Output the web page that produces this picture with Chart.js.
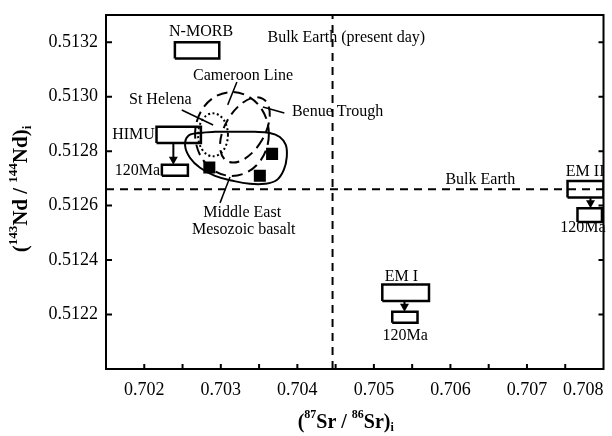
<!DOCTYPE html>
<html>
<head>
<meta charset="utf-8">
<script src="https://cdn.jsdelivr.net/npm/chart.js@4.4.1/dist/chart.umd.min.js"></script>
<style>
  body { margin: 0; background: #fff; }
  #wrap { width: 612px; height: 436px; }
</style>
</head>
<body>
<div id="wrap"><canvas id="chart"></canvas></div>
<script>
// axis ranges
const xMin = 0.7015, xMax = 0.708, xStep = 0.0005;
const yMin = 0.5120, yMax = 0.5133, yStep = 0.0002;

// bulk earth reference values
const bulkSr = 0.70446;
const bulkNd = 0.51266;

// Middle East Mesozoic basalt samples
const sampleSr = [0.70285, 0.70367, 0.70351];
const sampleNd = [0.51274, 0.51279, 0.51271];

// mantle reservoir boxes (present day and at 120 Ma)
const boxNames = ['N-MORB', 'HIMU', 'HIMU 120Ma', 'EM II', 'EM II 120Ma', 'EM I', 'EM I 120Ma'];
const boxSrLow  = [0.70240, 0.70216, 0.70223, 0.70753, 0.70766, 0.70511, 0.70524];
const boxSrHigh = [0.70298, 0.70274, 0.70257, 0.70800, 0.70798, 0.70572, 0.70557];
const boxNdLow  = [0.51314, 0.51283, 0.51271, 0.51263, 0.51254, 0.51225, 0.51217];
const boxNdHigh = [0.51320, 0.51289, 0.51275, 0.51269, 0.51259, 0.51231, 0.51221];

// evolution arrows back to 120 Ma
const arrowSr     = [0.70238, 0.70783, 0.70540];
const arrowNdFrom = [0.51283, 0.51263, 0.51225];
const arrowNdTo   = [0.51275, 0.51259, 0.51221];

// ocean island / rift fields (ellipses)
const fieldNames = ['Cameroon Line', 'Benue Trough', 'St Helena'];
const fieldSr = [0.703146, 0.703315, 0.702898];
const fieldNd = [0.512863, 0.512878, 0.512860];
const fieldSrHalf = [0.000482, 0.000260, 0.000195];
const fieldNdHalf = [0.000154, 0.000132, 0.0000790];
const fieldTilt = [0, 30, 0];

// Middle East Mesozoic basalt field outline
const meSr = [0.70312, 0.703445, 0.70364, 0.703771, 0.703849, 0.703862, 0.703823, 0.703732, 0.703576,
              0.70338, 0.703159, 0.702924, 0.702729, 0.702599, 0.702534, 0.702573, 0.702729, 0.702924, 0.70312];
const meNd = [0.512871, 0.512871, 0.512867, 0.512852, 0.512823, 0.512779, 0.512731, 0.512694, 0.51268,
              0.51268, 0.512691, 0.512709, 0.512739, 0.512775, 0.512819, 0.512856, 0.512867, 0.512871, 0.512871];

// text annotations
const noteText = ['N-MORB', 'Bulk Earth (present day)', 'Cameroon Line', 'St Helena', 'Benue Trough', 'HIMU', '120Ma',
                  'Middle East', 'Mesozoic basalt', 'Bulk Earth', 'EM II', '120Ma', 'EM I', '120Ma'];
const noteSr = [0.702742, 0.70464, 0.70329, 0.70221, 0.704526, 0.70186, 0.70191,
                0.70328, 0.70330, 0.70639, 0.70776, 0.70773, 0.70536, 0.70541];
const noteNd = [0.513238, 0.513216, 0.513076, 0.512988, 0.512944, 0.51286, 0.512728,
                0.512573, 0.512511, 0.512694, 0.512724, 0.512518, 0.512339, 0.512122];

// leader lines from labels to fields
const leadSr0 = [0.70321, 0.70249, 0.70383, 0.70312];
const leadNd0 = [0.513054, 0.512951, 0.51294, 0.512705];
const leadSr1 = [0.70309, 0.70290, 0.70355, 0.70299];
const leadNd1 = [0.51297, 0.512896, 0.512962, 0.51261];

const fieldDash = { 'Cameroon Line': [11, 6], 'Benue Trough': [10, 6], 'St Helena': [2, 2.5] };
const serif = 'Liberation Serif, Times New Roman, serif';

const datasets = [];

datasets.push({
    data: [{ x: bulkSr, y: yMin }, { x: bulkSr, y: yMax }],
    showLine: true, borderColor: '#000', borderWidth: 2, borderDash: [8, 6], pointRadius: 0
});
datasets.push({
    data: [{ x: xMin, y: bulkNd }, { x: xMax, y: bulkNd }],
    showLine: true, borderColor: '#000', borderWidth: 2, borderDash: [8, 6], pointRadius: 0
});

boxNames.forEach((name, i) => {
    datasets.push({
        label: name,
        data: [
            { x: boxSrLow[i], y: boxNdLow[i] },
            { x: boxSrHigh[i], y: boxNdLow[i] },
            { x: boxSrHigh[i], y: boxNdHigh[i] },
            { x: boxSrLow[i], y: boxNdHigh[i] },
            { x: boxSrLow[i], y: boxNdLow[i] }
        ],
        showLine: true, borderColor: '#000', borderWidth: 2.5, borderJoinStyle: 'miter', pointRadius: 0
    });
});

datasets.push({
    label: 'Middle East Mesozoic basalt',
    data: meSr.map((v, i) => ({ x: v, y: meNd[i] })),
    showLine: true, borderColor: '#000', borderWidth: 2, tension: 0.4, pointRadius: 0
});

datasets.push({
    label: 'samples',
    data: sampleSr.map((v, i) => ({ x: v, y: sampleNd[i] })),
    pointStyle: 'rect', pointRadius: 8.5, backgroundColor: '#000', borderColor: '#000', borderWidth: 0
});

function drawRich(ctx, parts, size) {
    const big = 'bold ' + size + 'px ' + serif;
    const small = 'bold ' + Math.round(size * 0.6) + 'px ' + serif;
    let total = 0;
    parts.forEach(p => { ctx.font = p.s ? small : big; total += ctx.measureText(p.t).width; });
    let x = -total / 2;
    parts.forEach(p => {
        ctx.font = p.s ? small : big;
        const dy = p.s === 'sup' ? -size * 0.38 : p.s === 'sub' ? size * 0.25 : 0;
        ctx.fillText(p.t, x, dy);
        x += ctx.measureText(p.t).width;
    });
}

const overlay = {
    id: 'overlay',
    afterDatasetsDraw(chart) {
        const { ctx, chartArea: a, scales: { x, y } } = chart;
        ctx.save();
        ctx.strokeStyle = '#000';
        ctx.fillStyle = '#000';

        // fields
        fieldNames.forEach((name, i) => {
            const cx = x.getPixelForValue(fieldSr[i]);
            const cy = y.getPixelForValue(fieldNd[i]);
            const rx = x.getPixelForValue(fieldSr[i] + fieldSrHalf[i]) - cx;
            const ry = cy - y.getPixelForValue(fieldNd[i] + fieldNdHalf[i]);
            ctx.beginPath();
            ctx.setLineDash(fieldDash[name]);
            ctx.lineWidth = 2;
            ctx.ellipse(cx, cy, rx, ry, fieldTilt[i] * Math.PI / 180, 0, Math.PI * 2);
            ctx.stroke();
        });
        ctx.setLineDash([]);

        // arrows
        arrowSr.forEach((sr, i) => {
            const px = x.getPixelForValue(sr);
            const y0 = y.getPixelForValue(arrowNdFrom[i]);
            const y1 = y.getPixelForValue(arrowNdTo[i]);
            ctx.lineWidth = 2;
            ctx.beginPath();
            ctx.moveTo(px, y0);
            ctx.lineTo(px, y1 - 6);
            ctx.stroke();
            ctx.beginPath();
            ctx.moveTo(px - 4.5, y1 - 8);
            ctx.lineTo(px + 4.5, y1 - 8);
            ctx.lineTo(px, y1);
            ctx.closePath();
            ctx.fill();
        });

        // leader lines
        ctx.lineWidth = 1.5;
        leadSr0.forEach((v, i) => {
            ctx.beginPath();
            ctx.moveTo(x.getPixelForValue(v), y.getPixelForValue(leadNd0[i]));
            ctx.lineTo(x.getPixelForValue(leadSr1[i]), y.getPixelForValue(leadNd1[i]));
            ctx.stroke();
        });

        // labels
        ctx.font = '16px ' + serif;
        ctx.textAlign = 'center';
        ctx.textBaseline = 'middle';
        noteText.forEach((t, i) => {
            ctx.fillText(t, x.getPixelForValue(noteSr[i]), y.getPixelForValue(noteNd[i]));
        });

        // frame and inner ticks
        ctx.lineWidth = 2;
        ctx.strokeRect(a.left, a.top, a.right - a.left, a.bottom - a.top);
        x.ticks.forEach(t => {
            if (t.value <= xMin + 1e-9 || t.value >= xMax - 1e-9) return;
            const px = x.getPixelForValue(t.value);
            ctx.beginPath();
            ctx.moveTo(px, a.bottom);
            ctx.lineTo(px, a.bottom - 5);
            ctx.stroke();
        });
        y.ticks.forEach(t => {
            if (t.value <= yMin + 1e-9 || t.value >= yMax - 1e-9) return;
            const py = y.getPixelForValue(t.value);
            ctx.beginPath();
            ctx.moveTo(a.left, py);
            ctx.lineTo(a.left + 6, py);
            ctx.moveTo(a.right, py);
            ctx.lineTo(a.right - 5, py);
            ctx.stroke();
        });

        // axis titles
        ctx.textAlign = 'left';
        ctx.textBaseline = 'middle';
        ctx.save();
        ctx.translate((a.left + a.right) / 2 - 9, a.bottom + 54);
        drawRich(ctx, [{ t: '(' }, { t: '87', s: 'sup' }, { t: 'Sr / ' }, { t: '86', s: 'sup' }, { t: 'Sr)' }, { t: 'i', s: 'sub' }], 20);
        ctx.restore();
        ctx.save();
        ctx.translate(22, (a.top + a.bottom) / 2 - 3);
        ctx.rotate(-Math.PI / 2);
        drawRich(ctx, [{ t: '(' }, { t: '143', s: 'sup' }, { t: 'Nd / ' }, { t: '144', s: 'sup' }, { t: 'Nd)' }, { t: 'i', s: 'sub' }], 21);
        ctx.restore();

        ctx.restore();
    }
};

new Chart(document.getElementById('chart'), {
    type: 'scatter',
    data: { datasets },
    options: {
        responsive: true,
        maintainAspectRatio: false,
        animation: false,
        layout: { padding: { top: 15, right: 7, left: 0, bottom: 0 } },
        plugins: { legend: { display: false }, tooltip: { enabled: false } },
        scales: {
            x: {
                type: 'linear', min: xMin, max: xMax,
                grid: { display: false, drawTicks: false }, border: { display: false },
                ticks: {
                    stepSize: xStep, autoSkip: false, maxRotation: 0, align: 'inner', padding: 10,
                    color: '#000', font: { family: serif, size: 18 },
                    callback: v => Math.abs(v * 1000 - Math.round(v * 1000)) < 1e-6 ? v.toFixed(3) : ''
                },
                afterFit: s => { s.height = 67; s.paddingLeft = 0; s.paddingRight = 0; }
            },
            y: {
                type: 'linear', min: yMin, max: yMax,
                grid: { display: false, drawTicks: false }, border: { display: false },
                ticks: {
                    stepSize: yStep, includeBounds: false, autoSkip: false, padding: 8,
                    color: '#000', font: { family: serif, size: 18 },
                    callback: v => Math.abs(v - yMin) < 1e-7 ? '' : v.toFixed(4)
                },
                afterFit: s => { s.width = 106; s.paddingTop = 0; s.paddingBottom = 0; }
            }
        }
    },
    plugins: [overlay]
});
</script>
</body>
</html>
